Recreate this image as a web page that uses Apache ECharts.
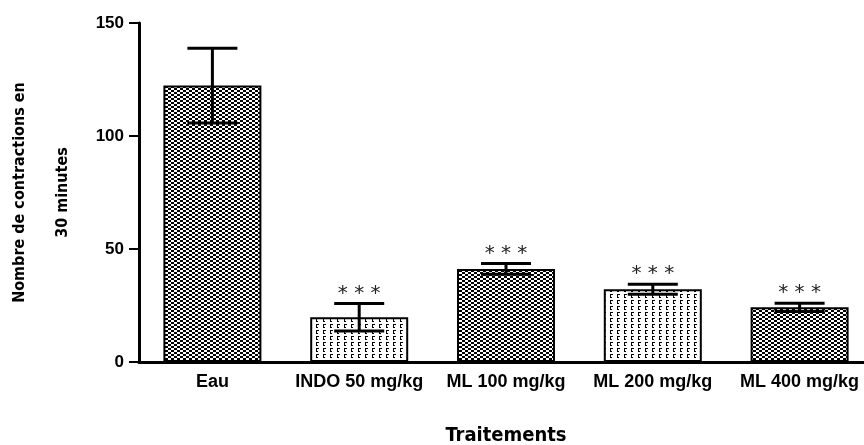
<!DOCTYPE html>
<html>
<head>
<meta charset="utf-8">
<script src="https://cdn.jsdelivr.net/npm/echarts@6/dist/echarts.min.js"></script>
<style>
  html, body { margin: 0; padding: 0; background: #fff; }
  #myChart { width: 864px; height: 445px; }
</style>
</head>
<body>
<div id="myChart"></div>
<script>
// données
var traitements = ['Eau', 'INDO 50 mg/kg', 'ML 100 mg/kg', 'ML 200 mg/kg', 'ML 400 mg/kg'];
var moyennes = [122.3, 19.8, 41.2, 32.2, 24.2];
var erreurs = [16.5, 6.1, 2.4, 2.2, 1.8];
var signif = ['', '***', '***', '***', '***'];
var motifs = ['dense', 'clair', 'dense', 'clair', 'dense'];
var yTicks = [0, 50, 100, 150];

var policeTitre = '"DejaVu Sans Condensed", "Liberation Sans", sans-serif';

// motif damier serre
function motifDense() {
  var c = document.createElement('canvas');
  c.width = 6; c.height = 4;
  var ctx = c.getContext('2d');
  ctx.fillStyle = '#fff';
  ctx.fillRect(0, 0, 6, 4);
  ctx.fillStyle = '#000';
  ctx.fillRect(0, 0, 3, 2);
  ctx.fillRect(3, 2, 3, 2);
  return c;
}
// motif clair a tirets verticaux
function motifClair() {
  var c = document.createElement('canvas');
  c.width = 7; c.height = 6;
  var ctx = c.getContext('2d');
  ctx.fillStyle = '#fff';
  ctx.fillRect(0, 0, 7, 6);
  ctx.fillStyle = '#000';
  ctx.fillRect(1, 0, 1, 4);
  ctx.fillRect(2, 0, 2, 1);
  ctx.fillRect(2, 3, 1, 1);
  return c;
}
var patDense = motifDense();
var patClair = motifClair();

var barData = moyennes.map(function (v, i) {
  return {
    value: v,
    itemStyle: {
      color: { image: motifs[i] === 'dense' ? patDense : patClair, repeat: 'repeat' }
    }
  };
});
var errData = moyennes.map(function (v, i) {
  return [i, v - erreurs[i], v + erreurs[i]];
});

var myChart = echarts.init(document.getElementById('myChart'));
myChart.setOption({
  animation: false,
  grid: { left: 139, right: -9, top: 23, bottom: 83, outerBoundsMode: 'none', containLabel: false },
  xAxis: {
    type: 'category',
    data: traitements,
    name: 'Traitements',
    nameLocation: 'middle',
    nameGap: 64,
    nameTextStyle: { fontFamily: policeTitre, fontWeight: 'bold', fontSize: 20, color: '#000' },
    axisLine: { lineStyle: { color: '#000', width: 3 } },
    axisTick: { alignWithLabel: true, length: 6, lineStyle: { color: '#000', width: 3 } },
    axisLabel: { interval: 0, hideOverlap: false, margin: 11, fontFamily: 'Liberation Sans', fontWeight: 'bold', fontSize: 18, color: '#000' }
  },
  yAxis: {
    type: 'value',
    min: yTicks[0],
    max: yTicks[yTicks.length - 1],
    interval: 50,
    name: 'Nombre de contractions en\n30 minutes',
    nameLocation: 'middle',
    nameRotate: 90,
    nameGap: 44,
    nameTextStyle: { fontFamily: policeTitre, fontWeight: 'bold', fontSize: 16, lineHeight: 43, color: '#000' },
    splitLine: { show: false },
    axisLine: { show: true, lineStyle: { color: '#000', width: 3 } },
    axisTick: { show: true, length: 10, lineStyle: { color: '#000', width: 2 } },
    axisLabel: { margin: 15, fontFamily: 'Liberation Sans', fontWeight: 'bold', fontSize: 17, color: '#000' }
  },
  series: [
    {
      type: 'bar',
      data: barData,
      barWidth: 98,
      itemStyle: { borderColor: '#000', borderWidth: 2 }
    },
    {
      type: 'custom',
      data: errData,
      z: 5,
      renderItem: function (params, api) {
        var i = api.value(0);
        var bas = api.coord([i, api.value(1)]);
        var haut = api.coord([i, api.value(2)]);
        var demi = 25;
        var style = { stroke: '#000', lineWidth: 3 };
        var enfants = [
          { type: 'line', shape: { x1: haut[0], y1: haut[1], x2: bas[0], y2: bas[1] }, style: style },
          { type: 'line', shape: { x1: haut[0] - demi, y1: haut[1], x2: haut[0] + demi, y2: haut[1] }, style: style },
          { type: 'line', shape: { x1: bas[0] - demi, y1: bas[1], x2: bas[0] + demi, y2: bas[1] }, style: style }
        ];
        if (signif[params.dataIndex]) {
          enfants.push({
            type: 'text',
            style: {
              text: signif[params.dataIndex].split('').join(' '),
              x: haut[0], y: haut[1],
              align: 'center', verticalAlign: 'bottom',
              font: '20px "DejaVu Sans"', fill: '#222'
            }
          });
        }
        return { type: 'group', children: enfants };
      }
    }
  ]
});
</script>
</body>
</html>
